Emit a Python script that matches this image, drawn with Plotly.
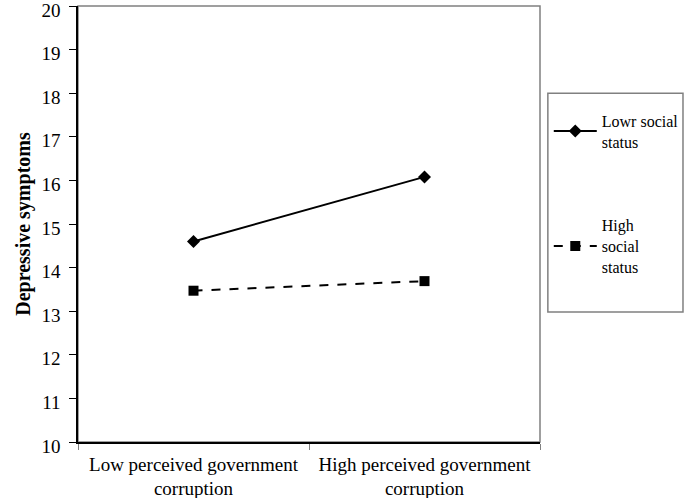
import plotly.graph_objects as go

# data
categories = ["Low perceived government<br>corruption", "High perceived government<br>corruption"]
low_status = [14.6, 16.08]
high_status = [13.47, 13.69]
series_names = ["Lowr social<br>status", "High<br>social<br>status"]

font_family = "Liberation Serif, Times New Roman, serif"

fig = go.Figure()
fig.add_trace(go.Scatter(x=categories, y=low_status, mode='lines+markers', name=series_names[0],
                         line=dict(color='black', width=2),
                         marker=dict(symbol='diamond', size=10, color='black'),
                         legendgroup='a'))
fig.add_trace(go.Scatter(x=categories, y=high_status, mode='lines+markers', name=series_names[1],
                         line=dict(color='black', width=2, dash='dash'),
                         marker=dict(symbol='square', size=10, color='black'),
                         legendgroup='b'))

fig.update_layout(
    width=685, height=498,
    margin=dict(l=78, r=145, t=6, b=56, autoexpand=False),
    paper_bgcolor='white', plot_bgcolor='white',
    font=dict(family=font_family, size=19, color='black'),
    showlegend=True,
    legend=dict(x=1.019, xanchor='left', xref='paper', y=0.776, yanchor='top',
                font=dict(size=16), bgcolor='rgba(0,0,0,0)', borderwidth=0,
                tracegroupgap=60, itemwidth=43, traceorder='grouped'),
    shapes=[
        # plot area border (grey, behind the black axes)
        dict(type='rect', xref='paper', yref='paper', x0=0, x1=1, y0=0, y1=1,
             line=dict(color='#808080', width=1.5), layer='below'),
        # legend box
        dict(type='rect', xref='paper', yref='paper', x0=1.017, x1=1.3095, y0=0.298, y1=0.800,
             line=dict(color='#808080', width=1.5)),
    ],
)

fig.update_xaxes(type='category', range=[-0.5, 1.5], showline=True, linecolor='black', linewidth=1.5,
                 ticks='outside', tickson='boundaries', ticklen=6, tickcolor='#808080',
                 showgrid=False, zeroline=False, tickfont=dict(size=19), automargin=False,
                 ticklabelstandoff=4)
fig.update_yaxes(range=[10, 20], dtick=1, showline=True, linecolor='black', linewidth=1.5,
                 ticks='outside', ticklen=7, tickcolor='black', showgrid=False, zeroline=False,
                 tickfont=dict(size=19), ticklabeloverflow='allow', ticklabelstandoff=5,
                 ticklabelshift=4, automargin=False,
                 title=dict(text='<b>Depressive symptoms</b>', font=dict(size=20), standoff=5))

fig.write_html("out.html", config={'displayModeBar': False},
               post_script="document.body.style.margin='0';")
